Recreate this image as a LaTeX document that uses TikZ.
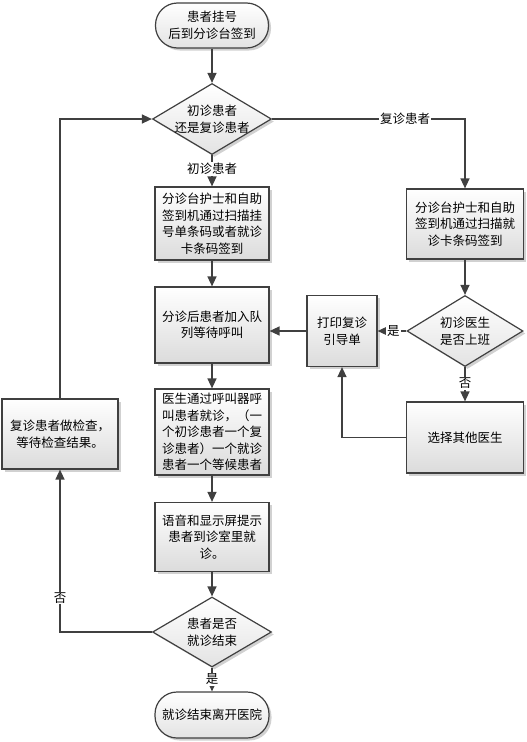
\documentclass[tikz,border=0pt]{standalone}
\usepackage{fontspec}
\setmainfont{Noto Sans CJK SC}
\usetikzlibrary{shapes.geometric,arrows.meta,shadows}
\definecolor{ln}{HTML}{404040}
\begin{document}
\begin{tikzpicture}[x=1pt,y=-1pt,
  font=\fontsize{12.5}{16.5}\selectfont,
  line/.style={draw=ln,line width=1.4pt},
  arr/.style={line,-{Triangle[length=10pt,width=9pt]}},
  shd/.style={drop shadow={shadow xshift=2.5pt,shadow yshift=-2.5pt,fill=gray!60,opacity=0.6}},
  box/.style={draw=ln,line width=1.2pt,top color=white,bottom color=gray!28,shd,align=center,inner sep=1pt},
  dia/.style={diamond,draw=ln,line width=1.2pt,top color=white,bottom color=gray!22,shd,inner sep=0pt},
  term/.style={draw=ln,line width=1.2pt,rounded corners=22pt,top color=white,bottom color=gray!22,shd,align=center,inner sep=1pt},
  txt/.style={align=center,inner sep=0pt},
  lbl/.style={fill=white,inner sep=1pt,text=black}
]
\useasboundingbox (0,0) rectangle (527,742);

% main column
\node[term,minimum width=113pt,minimum height=45pt] (start) at (212,25.5) {患者挂号\\后到分诊台签到};
\node[dia,minimum width=119pt,minimum height=71pt] (d1) at (212,119) {};
\node[txt] (d1t) at (d1) {初诊患者\\还是复诊患者};
\node[box,minimum width=114pt,minimum height=73pt] (ba) at (212,223.5) {分诊台护士和自助\\签到机通过扫描挂\\号单条码或者就诊\\卡条码签到};
\node[box,minimum width=114pt,minimum height=76pt] (bb) at (212,325) {分诊后患者加入队\\列等待呼叫};
\node[box,minimum width=114pt,minimum height=86pt] (bc) at (212,432) {医生通过呼叫器呼\\叫患者就诊，（一\\个初诊患者一个复\\诊患者）一个就诊\\患者一个等候患者};
\node[box,minimum width=114pt,minimum height=69pt] (bd) at (212,537) {语音和显示屏提示\\患者到诊室里就\\诊。};
\node[dia,minimum width=119pt,minimum height=70pt] (d2) at (212,632) {};
\node[txt] (d2t) at (d2) {患者是否\\就诊结束};
\node[term,minimum width=114pt,minimum height=46pt] (end) at (212,715) {就诊结束离开医院};

% left column
\node[box,minimum width=116pt,minimum height=70pt] (lb) at (60,434) {复诊患者做检查，\\等待检查结果。};

% right column
\node[box,minimum width=117pt,minimum height=70pt] (r1) at (465,224) {分诊台护士和自助\\签到机通过扫描就\\诊卡条码签到};
\node[dia,minimum width=116pt,minimum height=71pt] (d3) at (465,331) {};
\node[txt] (d3t) at (d3) {初诊医生\\是否上班};
\node[box,minimum width=70pt,minimum height=71pt] (pr) at (342,331) {打印复诊\\引导单};
\node[box,minimum width=117pt,minimum height=71pt] (sel) at (465,437.5) {选择其他医生};

% connectors
\draw[arr] (start) -- (d1);
\draw[arr] (d1.east) -| node[lbl,pos=0.345] (l1) {复诊患者} (r1.north);
\draw[arr] (d1.south) -- node[lbl,pos=0.45] (l2) {初诊患者} (ba.north);
\draw[arr] (ba) -- (bb);
\draw[arr] (bb) -- (bc);
\draw[arr] (bc) -- (bd);
\draw[arr] (bd) -- (d2);
\draw[arr] (d2.south) -- node[lbl,pos=0.5] (l3) {是} (end.north);
\draw[arr] (d2.west) -| node[lbl,pos=0.605] (l4) {否} (lb.south);
\draw[arr] (lb.north) |- (d1.west);
\draw[arr] (r1) -- (d3);
\draw[arr] (d3.west) -- node[lbl,pos=0.45] (l5) {是} (pr.east);
\draw[arr] (d3.south) -- node[lbl,pos=0.47] (l6) {否} (sel.north);
\draw[arr] (sel.west) -| (pr.south);
\draw[arr] (pr.west) -- (pr.west -| bb.east);
\end{tikzpicture}
\end{document}
